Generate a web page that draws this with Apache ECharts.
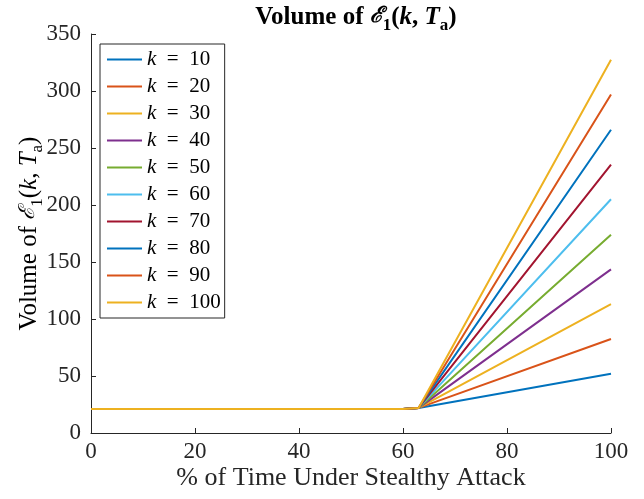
<!DOCTYPE html>
<html lang="en" style="height: 100%">
<head>
  <meta charset="utf-8">
  <title>volume-e1</title>
</head>
<body style="height: 100%; margin: 0">
  <div id="container" style="width: 644px;height: 499px"></div>
  <script type="text/javascript" src="https://cdn.jsdelivr.net/npm/echarts@6/dist/echarts.min.js"></script>
  <script type="text/javascript">
// % of time under stealthy attack
const xs = [0, 20, 40, 60, 63, 100];
const ks = [10, 20, 30, 40, 50, 60, 70, 80, 90, 100];
// volume for each k, read at the x points above
const v10  = [21, 21, 21, 21, 22, 52];
const v20  = [21, 21, 21, 21, 22, 82.5];
const v30  = [21, 21, 21, 21, 22, 113];
const v40  = [21, 21, 21, 21, 22, 143.5];
const v50  = [21, 21, 21, 21, 22, 174];
const v60  = [21, 21, 21, 21, 22, 205];
const v70  = [21, 21, 21, 21, 22, 235.5];
const v80  = [21, 21, 21, 21, 22, 266];
const v90  = [21, 21, 21, 21, 22, 297];
const v100 = [21, 21, 21, 21, 22, 327.5];
const values = [v10, v20, v30, v40, v50, v60, v70, v80, v90, v100];
const colors = ['#0072BD', '#D95319', '#EDB120', '#7E2F8E', '#77AC30',
                '#4DBEEE', '#A2142F', '#0072BD', '#D95319', '#EDB120'];

var dom = document.getElementById('container');
var myChart = echarts.init(dom, null, { renderer: 'canvas' });

var serif = 'Liberation Serif';
// rich pieces for "Volume of E_1(k, T_a)", subscripts pushed down via lineHeight + bottom align
function mathRich(size, weight) {
  var lh = size + 4;
  return {
    b: { fontFamily: serif, fontSize: size, fontWeight: weight, color: '#000', lineHeight: lh, verticalAlign: 'top' },
    e: { fontFamily: 'DejaVu Serif', fontSize: size - 3, fontStyle: 'italic', color: '#000', lineHeight: lh, verticalAlign: 'top' },
    i: { fontFamily: serif, fontSize: size, fontStyle: 'italic', color: '#000', lineHeight: lh, verticalAlign: 'top' },
    s: { fontFamily: serif, fontSize: Math.round(size * 0.68), color: '#000', lineHeight: lh, verticalAlign: 'bottom' }
  };
}
var mathText = '{b|Volume of }{e|ℰ}{s|1}{b|(}{i|k}{b|, }{i|T}{s|a}{b|)}';

var series = ks.map(function (k, j) {
  return {
    name: 'k' + k,
    type: 'line',
    symbol: 'none',
    color: colors[j],
    lineStyle: { width: 2, color: colors[j] },
    data: xs.map(function (x, i) { return [x, values[j][i]]; }),
    animation: false
  };
});

var option = {
  animation: false,
  title: {
    text: mathText,
    left: 351,
    textAlign: 'center',
    top: 0,
    textStyle: { rich: mathRich(25, 'bold') }
  },
  grid: { left: 91, right: 33, top: 34, bottom: 66, outerBoundsMode: 'none' },
  legend: {
    orient: 'vertical',
    left: 100,
    top: 44,
    padding: [5, 4, 5, 7],
    itemGap: 6,
    itemWidth: 35,
    itemHeight: 2,
    icon: 'rect',
    borderColor: '#262626',
    borderWidth: 1,
    borderRadius: 0,
    backgroundColor: '#fff',
    data: ks.map(function (k) { return 'k' + k; }),
    formatter: function (name) {
      return '{k|k}{t|  =  ' + name.slice(1) + '}';
    },
    textStyle: {
      rich: {
        k: { fontFamily: serif, fontSize: 21, fontStyle: 'italic', color: '#000', lineHeight: 20.3 },
        t: { fontFamily: serif, fontSize: 21, color: '#000', lineHeight: 20.3 }
      }
    }
  },
  xAxis: {
    type: 'value',
    min: 0,
    max: 100,
    interval: 20,
    name: '% of Time Under Stealthy Attack',
    nameLocation: 'middle',
    nameGap: 32,
    nameMoveOverlap: false,
    nameTextStyle: { fontFamily: serif, fontSize: 26, color: '#262626' },
    axisLine: { lineStyle: { color: '#262626', width: 1 } },
    axisTick: { inside: true, length: 5, lineStyle: { color: '#262626' } },
    axisLabel: { fontFamily: serif, fontSize: 23, color: '#262626', margin: 7 },
    splitLine: { show: false }
  },
  yAxis: {
    type: 'value',
    min: 0,
    max: 350,
    interval: 50,
    name: mathText,
    nameLocation: 'middle',
    nameGap: 45,
    nameMoveOverlap: false,
    nameRotate: 90,
    nameTextStyle: { rich: mathRich(25, 'normal') },
    axisLine: { show: true, lineStyle: { color: '#262626', width: 1 } },
    axisTick: { show: true, inside: true, length: 5, lineStyle: { color: '#262626' } },
    axisLabel: { fontFamily: serif, fontSize: 23, color: '#262626', margin: 10 },
    splitLine: { show: false }
  },
  series: series
};

myChart.setOption(option);
window.addEventListener('resize', myChart.resize);
  </script>
</body>
</html>
